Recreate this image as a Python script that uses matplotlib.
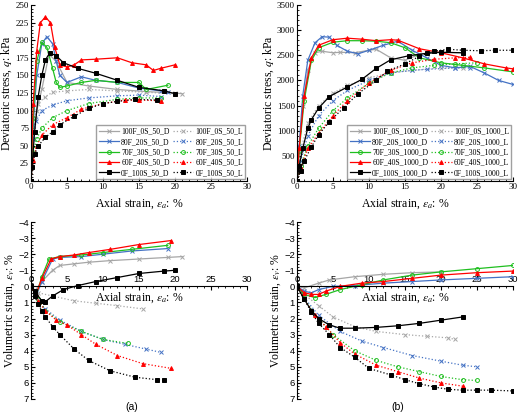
import matplotlib
matplotlib.use("Agg")
import matplotlib.pyplot as plt
from matplotlib.ticker import MultipleLocator

plt.rcParams['font.family'] = ['Liberation Serif', 'DejaVu Serif']
plt.rcParams['mathtext.fontset'] = 'stix'

names = ["100F_0S", "80F_20S", "70F_30S", "60F_40S", "0F_100S"]
colors = ["#a6a6a6", "#4472c4", "#1fbf1f", "#ff0000", "#000000"]
markers = ["x", "x", "o", "^", "s"]

# top-left: q (kPa) at 50 kPa
q50 = {
 "100F_0S_50_D": ([0,0.3,0.8,1.5,2.5,3.5,5,8,12,16,20,21],[0,60,100,130,180,170,140,135,130,127,125,124]),
 "100F_0S_50_L": ([0,0.5,1,2,3,5,8,12,16,20],[0,90,110,120,126,128,130,128,126,124]),
 "80F_20S_50_D": ([0,0.3,0.8,1.5,2.2,3,3.5,4,5,7,9,12,15,18,19],[0,80,150,195,205,195,170,150,140,148,143,140,132,128,127]),
 "80F_20S_50_L": ([0,0.3,0.7,1.5,3,5,8,12,15,18],[0,60,85,100,108,114,118,121,122,120]),
 "70F_30S_50_D": ([0,0.3,0.8,1.5,2.2,3,3.5,4,5,7,9,12,15,16,19],[0,90,170,197,190,160,140,133,135,140,143,140,140,130,136]),
 "70F_30S_50_L": ([0,0.3,0.8,1.5,3,5,8,12,15,18],[0,40,60,75,90,100,110,116,118,118]),
 "60F_40S_50_D": ([0,0.3,0.8,1.3,2,2.7,3.3,4,5,6,7,9,12,14,16,17,18,20],[0,110,185,225,233,225,190,165,162,165,172,173,175,168,165,157,160,165]),
 "60F_40S_50_L": ([0,0.3,0.8,1.5,3,5,7,10,13,15,18],[0,30,50,65,80,90,102,110,115,115,114]),
 "0F_100S_50_D": ([0,0.5,1,1.5,2,2.6,3.5,4.5,6.5,9,12,15,18.5,20],[0,70,120,150,172,182,178,168,160,153,143,133,128,124]),
 "0F_100S_50_L": ([0,0.2,0.5,1,2,3,4,6,8,10,12,14.5,17.5],[0,20,38,50,62,70,80,92,103,110,113,116,115]),
}
# top-right: q (kPa) at 1000 kPa
q1000 = {
 "100F_0S_1000_D": ([0,0.3,0.8,1.5,2.5,3.5,5,6,8,10,11,13,15,17,20,23],[0,600,1500,2200,2550,2580,2550,2560,2550,2600,2620,2450,2400,2520,2560,2550]),
 "100F_0S_1000_L": ([0,0.5,1.5,3,5,7,10,13,16,20,23],[0,600,1150,1500,1750,1900,2050,2150,2200,2250,2250]),
 "80F_20S_1000_D": ([0,0.3,0.8,1.5,2.5,3.5,4.5,5.5,7,8.5,10,12,14,16,18,20,22,24,26,28,30],[0,700,1700,2400,2750,2870,2860,2700,2580,2530,2600,2700,2780,2600,2450,2300,2250,2280,2150,2000,1920]),
 "80F_20S_1000_L": ([0,0.5,1.5,3,5,7,10,13,16,18,22,24],[0,400,900,1300,1600,1800,2000,2150,2200,2220,2250,2250]),
 "70F_30S_1000_D": ([0,0.3,1,2,3,5,7,9,11,13,15,17,20,23,26,30],[0,600,1600,2400,2650,2760,2790,2790,2780,2750,2650,2450,2350,2300,2250,2170]),
 "70F_30S_1000_L": ([0,0.5,1.5,3,5,7,10,13,16,19,22,25],[0,300,700,1050,1400,1650,1950,2150,2250,2300,2330,2350]),
 "60F_40S_1000_D": ([0,0.3,1,2,3,5,7,9,11,13,14,17,20,23,26,29,30],[0,650,1700,2450,2700,2810,2840,2820,2790,2810,2800,2630,2550,2450,2330,2250,2230]),
 "60F_40S_1000_L": ([0,0.5,1.5,3,5,7,10,13,16,19,22,24],[0,250,650,950,1300,1600,1950,2200,2350,2420,2450,2460]),
 "0F_100S_1000_D": ([0,0.3,0.8,1.5,2,3,4.5,7,9,11,13,15.5,18,20,23],[0,300,650,1050,1220,1450,1680,1870,2020,2240,2410,2490,2540,2560,2550]),
 "0F_100S_1000_L": ([0,0.5,1,2,3,4.5,6.5,8.5,11,12.5,15,17,19,21,23,25.5,27.5,30],[0,200,400,680,920,1180,1460,1740,2000,2180,2330,2480,2580,2620,2600,2590,2600,2600]),
}
# bottom-left: volumetric strain (%) at 50 kPa
ev50 = {
 "100F_0S_50_D": ([0,0.5,1.5,3,4,6,8,11,15,19,21],[0,0.3,-0.3,-1.0,-1.3,-1.4,-1.5,-1.6,-1.7,-1.8,-1.85]),
 "100F_0S_50_L": ([0,1,3,6,9,12,15.5],[0,0.4,0.6,0.9,1.05,1.2,1.4]),
 "80F_20S_50_D": ([0,0.7,1.5,3,4,7,10,14,19],[0,0.6,-0.3,-1.7,-1.8,-1.85,-2.0,-2.2,-2.35]),
 "80F_20S_50_L": ([0,1,2,4,7,10,13,16,18],[0,0.9,1.4,2.1,2.8,3.3,3.6,3.9,4.1]),
 "70F_30S_50_D": ([0,0.7,1.5,2.5,4,7,10,14,19],[0,0.6,-0.6,-1.7,-1.85,-1.95,-2.1,-2.3,-2.55]),
 "70F_30S_50_L": ([0,1,2,4,7,10,13.5],[0,0.8,1.5,2.2,2.8,3.3,3.55]),
 "60F_40S_50_D": ([0,0.7,1.5,2.8,4,6,8,11,15,19.5],[0,0.5,-0.5,-1.7,-1.85,-1.95,-2.1,-2.3,-2.6,-2.85]),
 "60F_40S_50_L": ([0,1,2,3.5,5,7,9,12,15.5,19.5],[0,0.9,1.5,2.1,2.4,3.0,3.6,4.3,4.8,5.1]),
 "0F_100S_50_D": ([0,0.5,1.5,2,3,4.5,6.5,9,12,15,18.5,20],[0,0.3,0.9,0.95,0.6,0.2,-0.05,-0.3,-0.55,-0.8,-0.95,-1.0]),
 "0F_100S_50_L": ([0,0.5,1,1.5,2,3,4,6,8,11,14.5,17.5,18.5],[0,0.6,1.1,1.5,1.9,2.5,3.0,3.9,4.6,5.25,5.65,5.8,5.85]),
}
# bottom-right: volumetric strain (%) at 1000 kPa
ev1000 = {
 "100F_0S_1000_D": ([0,1,3,4.5,8,12,16,20],[0,0.1,-0.2,-0.4,-0.6,-0.75,-0.85,-0.9]),
 "100F_0S_1000_L": ([0,1,3,5,8,11,15,18,21,22],[0,0.5,1.2,1.9,2.5,2.8,3.0,3.1,3.2,3.3]),
 "80F_20S_1000_D": ([0,1,2,3,5,8,12,16,20,25,30],[0,0.3,0.4,0.2,0.0,-0.05,-0.2,-0.3,-0.4,-0.5,-0.6]),
 "80F_20S_1000_L": ([0,1,3,6,9,12,16,20,23,25],[0,0.7,1.8,2.8,3.4,3.8,4.3,4.65,4.9,5.0]),
 "70F_30S_1000_D": ([0,1,2.5,4,6,9,12,16,20,25,30],[0,0.5,0.7,0.5,0.2,-0.1,-0.4,-0.7,-0.9,-1.1,-1.3]),
 "70F_30S_1000_L": ([0,1,3,5,8,11,14,17,20,23,25],[0,0.8,2.0,3.0,4.0,4.6,5.0,5.3,5.6,5.8,5.85]),
 "60F_40S_1000_D": ([0,1,2,3,4,6,9,12,16,20,25,30],[0,0.4,0.5,0.5,0.3,0.0,-0.2,-0.3,-0.5,-0.7,-0.85,-0.95]),
 "60F_40S_1000_L": ([0,1,2.5,4,6,8,11,14,17,20,23],[0,0.8,1.8,2.5,3.5,4.2,4.9,5.3,5.7,6.0,6.2]),
 "0F_100S_1000_D": ([0,1,2,3,4.5,6,8,11,14,17,20,23],[0,0.8,1.5,2.0,2.4,2.6,2.6,2.55,2.45,2.3,2.1,1.9]),
 "0F_100S_1000_L": ([0,1,2,3,4.5,6,8,10,13,15,17,19,21,23,25,27,30],[0,0.8,1.6,2.3,3.0,3.8,4.4,5.1,5.5,5.8,6.05,6.25,6.4,6.45,6.45,6.45,6.5]),
}

fig = plt.figure(figsize=(5.2, 4.18), dpi=100)
W, H = 520, 418
def rect(l, r, t, b):
    return [l/W, 1-b/H, (r-l)/W, (b-t)/H]

axTL = fig.add_axes(rect(31, 247, 5, 181))
axTR = fig.add_axes(rect(297, 513, 5, 181))
axBL = fig.add_axes(rect(31, 247, 222, 399))
axBR = fig.add_axes(rect(297, 513, 222, 399))

def draw(ax, data):
    hD, hL = [], []
    for i, n in enumerate(names):
        for suf, ls in (("D", "-"), ("L", ":")):
            key = [k for k in data if k.startswith(n + "_") and k.endswith("_" + suf)][0]
            x, y = data[key]
            mfc = "none" if markers[i] in ("o", "x") else colors[i]
            h, = ax.plot(x, y, color=colors[i], ls=ls, lw=0.9,
                         marker=markers[i], ms=2.8, mfc=mfc, mew=0.7, label=key)
            (hD if suf == "D" else hL).append(h)
    return hD + hL

def style(ax, labsize=6.5):
    ax.tick_params(which="both", direction="in", labelsize=labsize, pad=1.5)
    ax.tick_params(which="major", length=3); ax.tick_params(which="minor", length=1.5)

for ax, data, ymax, ystep in ((axTL, q50, 250, 25), (axTR, q1000, 3500, 500)):
    handles = draw(ax, data)
    ax.set_xlim(0, 30); ax.set_ylim(0, ymax)
    ax.xaxis.set_major_locator(MultipleLocator(5)); ax.xaxis.set_minor_locator(MultipleLocator(1))
    ax.yaxis.set_major_locator(MultipleLocator(ystep)); ax.yaxis.set_minor_locator(MultipleLocator(ystep/5))
    for s in ("top", "right"):
        ax.spines[s].set_visible(False)
    style(ax)
    ax.set_xlabel(r"Axial strain, $\varepsilon_a$: %", fontsize=8.5, labelpad=4)
    ax.set_ylabel(r"Deviatoric stress, $q$: kPa", fontsize=8.5, labelpad=1)
    ax.legend(handles=handles, ncol=2, loc="lower right", fontsize=5.6, frameon=True, fancybox=False,
              edgecolor="#888888", handlelength=2.6, handletextpad=0.3, columnspacing=0.4,
              labelspacing=0.3, borderpad=0.3, borderaxespad=0.2, bbox_to_anchor=(1.0, 0.0))

for ax, data, lab in ((axBL, ev50, "(a)"), (axBR, ev1000, "(b)")):
    draw(ax, data)
    ax.set_xlim(0, 30); ax.set_ylim(7, -4)
    ax.spines["right"].set_visible(False); ax.spines["bottom"].set_visible(False)
    ax.spines["top"].set_position(("data", 0))
    ax.xaxis.set_ticks_position("top")
    ax.xaxis.set_major_locator(MultipleLocator(5)); ax.xaxis.set_minor_locator(MultipleLocator(1))
    ax.yaxis.set_major_locator(MultipleLocator(1)); ax.yaxis.set_minor_locator(MultipleLocator(0.2))
    ax.set_xticks([0, 5, 10, 15, 20, 25, 30])
    style(ax, 6.8)
    for t in ax.get_xticklabels() + ax.get_yticklabels():
        t.set_fontfamily("Liberation Sans")
    ax.set_ylabel(r"Volumetric strain, $\varepsilon_v$: %", fontsize=8.5, labelpad=1)
    ax.text(15, 0.25, r"Axial strain, $\varepsilon_a$: %", fontsize=8.5, ha="center", va="top")
    ax.text(14, 7.5, lab, fontsize=7.5, ha="center", va="center", family="Liberation Sans",
            clip_on=False)

fig.savefig("out.png", dpi=100)
